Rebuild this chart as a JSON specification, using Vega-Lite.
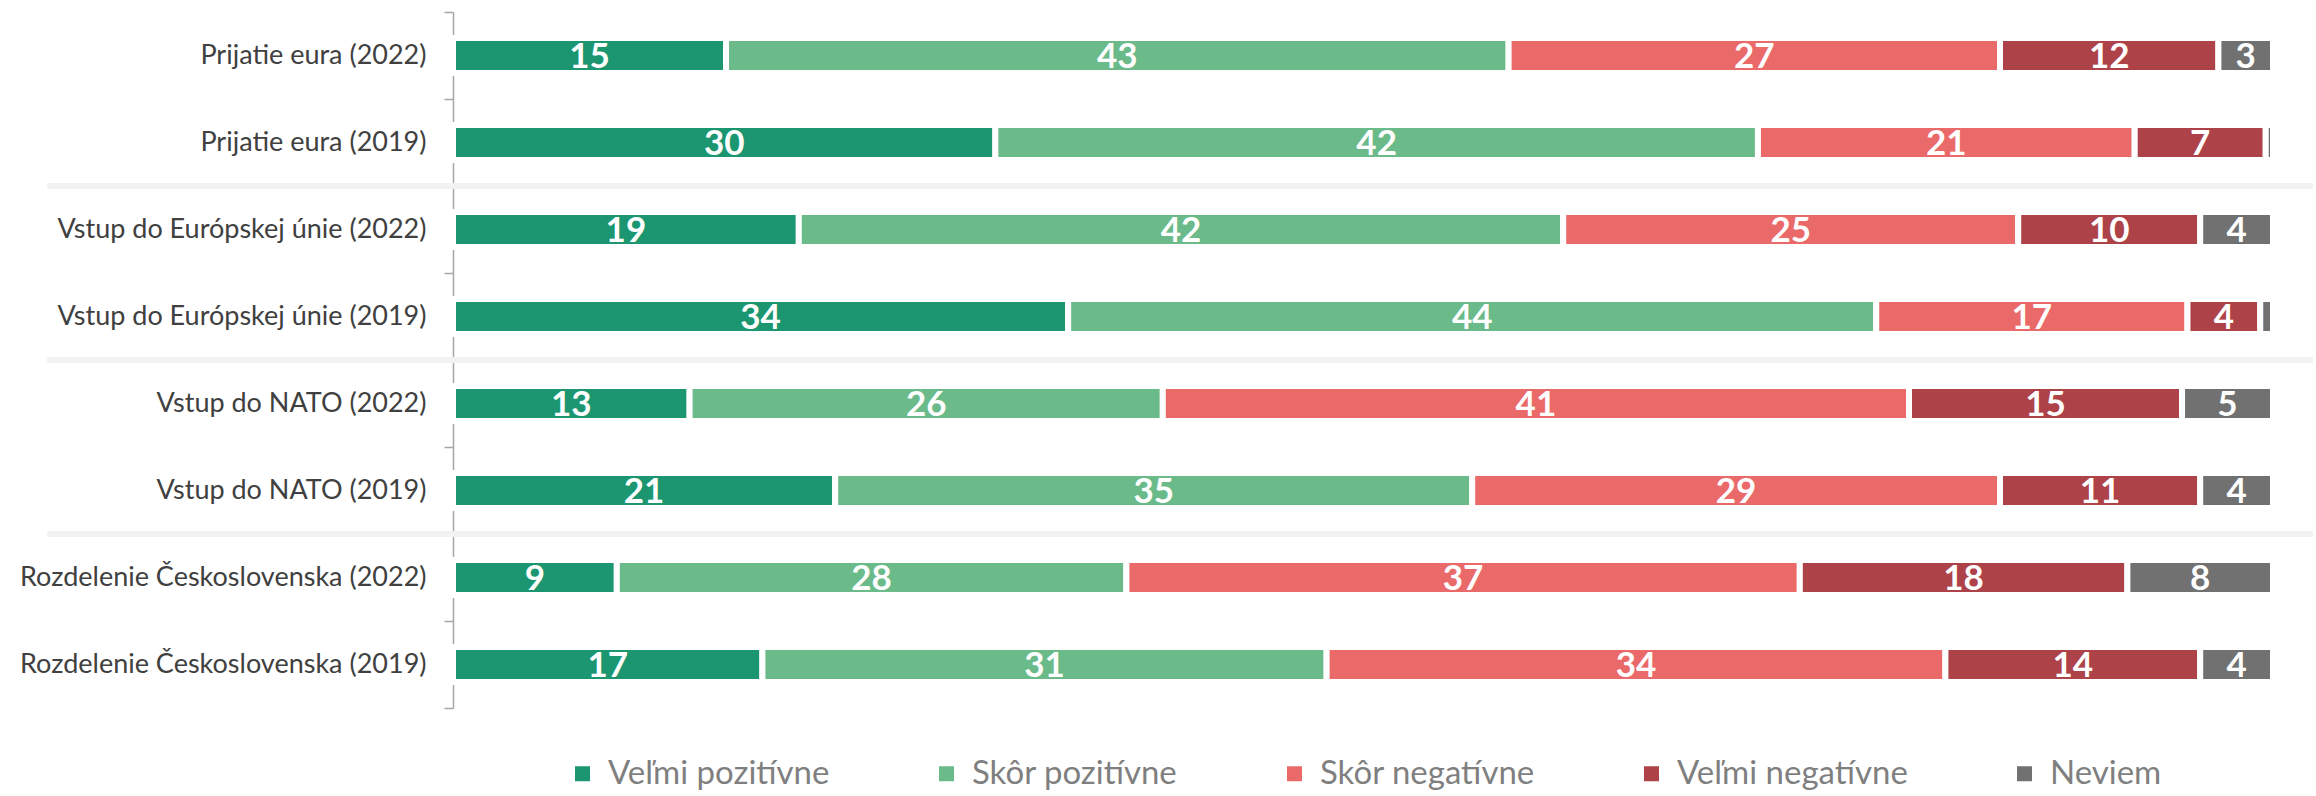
{
  "$schema": "https://vega.github.io/schema/vega-lite/v6.json",
  "width": 1820,
  "height": 696,
  "autosize": {"type": "none"},
  "padding": {"left": 453, "top": 12, "right": 43, "bottom": 88},
  "background": "white",
  "config": {"view": {"stroke": null}},
  "datasets": {
    "bars": [
      {"row": "Prijatie eura (2022)", "cat": "Veľmi pozitívne", "ord": 1, "value": 15},
      {"row": "Prijatie eura (2022)", "cat": "Skôr pozitívne", "ord": 2, "value": 43},
      {"row": "Prijatie eura (2022)", "cat": "Skôr negatívne", "ord": 3, "value": 27},
      {"row": "Prijatie eura (2022)", "cat": "Veľmi negatívne", "ord": 4, "value": 12},
      {"row": "Prijatie eura (2022)", "cat": "Neviem", "ord": 5, "value": 3},
      {"row": "Prijatie eura (2019)", "cat": "Veľmi pozitívne", "ord": 1, "value": 29.8},
      {"row": "Prijatie eura (2019)", "cat": "Skôr pozitívne", "ord": 2, "value": 41.9},
      {"row": "Prijatie eura (2019)", "cat": "Skôr negatívne", "ord": 3, "value": 20.7},
      {"row": "Prijatie eura (2019)", "cat": "Veľmi negatívne", "ord": 4, "value": 7.2},
      {"row": "Prijatie eura (2019)", "cat": "Neviem", "ord": 5, "value": 0.4},
      {"row": "Vstup do Európskej únie (2022)", "cat": "Veľmi pozitívne", "ord": 1, "value": 19},
      {"row": "Vstup do Európskej únie (2022)", "cat": "Skôr pozitívne", "ord": 2, "value": 42},
      {"row": "Vstup do Európskej únie (2022)", "cat": "Skôr negatívne", "ord": 3, "value": 25},
      {"row": "Vstup do Európskej únie (2022)", "cat": "Veľmi negatívne", "ord": 4, "value": 10},
      {"row": "Vstup do Európskej únie (2022)", "cat": "Neviem", "ord": 5, "value": 4},
      {"row": "Vstup do Európskej únie (2019)", "cat": "Veľmi pozitívne", "ord": 1, "value": 33.8},
      {"row": "Vstup do Európskej únie (2019)", "cat": "Skôr pozitívne", "ord": 2, "value": 44.4},
      {"row": "Vstup do Európskej únie (2019)", "cat": "Skôr negatívne", "ord": 3, "value": 17.1},
      {"row": "Vstup do Európskej únie (2019)", "cat": "Veľmi negatívne", "ord": 4, "value": 4.0},
      {"row": "Vstup do Európskej únie (2019)", "cat": "Neviem", "ord": 5, "value": 0.7},
      {"row": "Vstup do NATO (2022)", "cat": "Veľmi pozitívne", "ord": 1, "value": 13},
      {"row": "Vstup do NATO (2022)", "cat": "Skôr pozitívne", "ord": 2, "value": 26},
      {"row": "Vstup do NATO (2022)", "cat": "Skôr negatívne", "ord": 3, "value": 41},
      {"row": "Vstup do NATO (2022)", "cat": "Veľmi negatívne", "ord": 4, "value": 15},
      {"row": "Vstup do NATO (2022)", "cat": "Neviem", "ord": 5, "value": 5},
      {"row": "Vstup do NATO (2019)", "cat": "Veľmi pozitívne", "ord": 1, "value": 21},
      {"row": "Vstup do NATO (2019)", "cat": "Skôr pozitívne", "ord": 2, "value": 35},
      {"row": "Vstup do NATO (2019)", "cat": "Skôr negatívne", "ord": 3, "value": 29},
      {"row": "Vstup do NATO (2019)", "cat": "Veľmi negatívne", "ord": 4, "value": 11},
      {"row": "Vstup do NATO (2019)", "cat": "Neviem", "ord": 5, "value": 4},
      {"row": "Rozdelenie Československa (2022)", "cat": "Veľmi pozitívne", "ord": 1, "value": 9},
      {"row": "Rozdelenie Československa (2022)", "cat": "Skôr pozitívne", "ord": 2, "value": 28},
      {"row": "Rozdelenie Československa (2022)", "cat": "Skôr negatívne", "ord": 3, "value": 37},
      {"row": "Rozdelenie Československa (2022)", "cat": "Veľmi negatívne", "ord": 4, "value": 18},
      {"row": "Rozdelenie Československa (2022)", "cat": "Neviem", "ord": 5, "value": 8},
      {"row": "Rozdelenie Československa (2019)", "cat": "Veľmi pozitívne", "ord": 1, "value": 17},
      {"row": "Rozdelenie Československa (2019)", "cat": "Skôr pozitívne", "ord": 2, "value": 31},
      {"row": "Rozdelenie Československa (2019)", "cat": "Skôr negatívne", "ord": 3, "value": 34},
      {"row": "Rozdelenie Československa (2019)", "cat": "Veľmi negatívne", "ord": 4, "value": 14},
      {"row": "Rozdelenie Československa (2019)", "cat": "Neviem", "ord": 5, "value": 4}
    ],
    "seps": [
      {"row": "Prijatie eura (2019)"},
      {"row": "Vstup do Európskej únie (2019)"},
      {"row": "Vstup do NATO (2019)"}
    ]
  },
  "layer": [
    {
      "data": {"name": "bars"},
      "transform": [
        {"stack": "value", "groupby": ["row"], "sort": [{"field": "ord", "order": "ascending"}], "as": ["x0", "x1"]}
      ],
      "mark": {"type": "bar", "stroke": "white", "strokeWidth": 6, "height": {"band": 0.4}},
      "encoding": {
        "y": {
          "field": "row", "type": "nominal", "sort": null,
          "scale": {
            "domain": ["Prijatie eura (2022)", "Prijatie eura (2019)", "Vstup do Európskej únie (2022)", "Vstup do Európskej únie (2019)", "Vstup do NATO (2022)", "Vstup do NATO (2019)", "Rozdelenie Československa (2022)", "Rozdelenie Československa (2019)"],
            "paddingInner": 0, "paddingOuter": 0
          },
          "axis": {
            "title": null, "tickBand": "extent", "tickSize": 9, "labelPadding": 18,
            "domainColor": "#a6a6a6", "tickColor": "#a6a6a6", "domainWidth": 1.5, "tickWidth": 1.5,
            "labelFont": "Lato", "labelFontSize": 27, "labelColor": "#404040", "labelLimit": 0
          }
        },
        "x": {"field": "x0", "type": "quantitative", "scale": {"domain": [0, 100]}, "axis": null},
        "x2": {"field": "x1"},
        "color": {
          "field": "cat", "type": "nominal",
          "scale": {
            "domain": ["Veľmi pozitívne", "Skôr pozitívne", "Skôr negatívne", "Veľmi negatívne", "Neviem"],
            "range": ["#1b9670", "#6bba8a", "#ea6a6a", "#ae4249", "#717171"]
          },
          "legend": {
            "title": null, "orient": "none", "legendX": 113, "legendY": 745, "direction": "horizontal",
            "symbolType": "square", "symbolSize": 225, "symbolStrokeWidth": 0,
            "labelFont": "Lato", "labelFontSize": 33, "labelColor": "#7f7f7f",
            "labelOffset": 9, "columnPadding": 100, "labelLimit": 0
          }
        }
      }
    },
    {
      "data": {"name": "bars"},
      "transform": [
        {"stack": "value", "groupby": ["row"], "sort": [{"field": "ord", "order": "ascending"}], "as": ["x0", "x1"]},
        {"filter": "datum.value >= 1"},
        {"calculate": "(datum.x0 + datum.x1) / 2", "as": "mid"}
      ],
      "mark": {"type": "text", "color": "white", "font": "Lato", "fontWeight": "bold", "fontSize": 35, "baseline": "middle", "align": "center", "dy": 1},
      "encoding": {
        "y": {"field": "row", "type": "nominal", "sort": null},
        "x": {"field": "mid", "type": "quantitative", "scale": {"domain": [0, 100]}},
        "text": {"field": "value", "type": "quantitative", "format": ".0f"}
      }
    },
    {
      "data": {"name": "seps"},
      "mark": {"type": "rule", "color": "#f2f2f2", "strokeWidth": 6},
      "encoding": {
        "y": {"field": "row", "type": "nominal", "bandPosition": 1, "sort": null},
        "x": {"datum": -22.3, "type": "quantitative", "scale": {"domain": [0, 100]}},
        "x2": {"datum": 102.2}
      }
    }
  ]
}
